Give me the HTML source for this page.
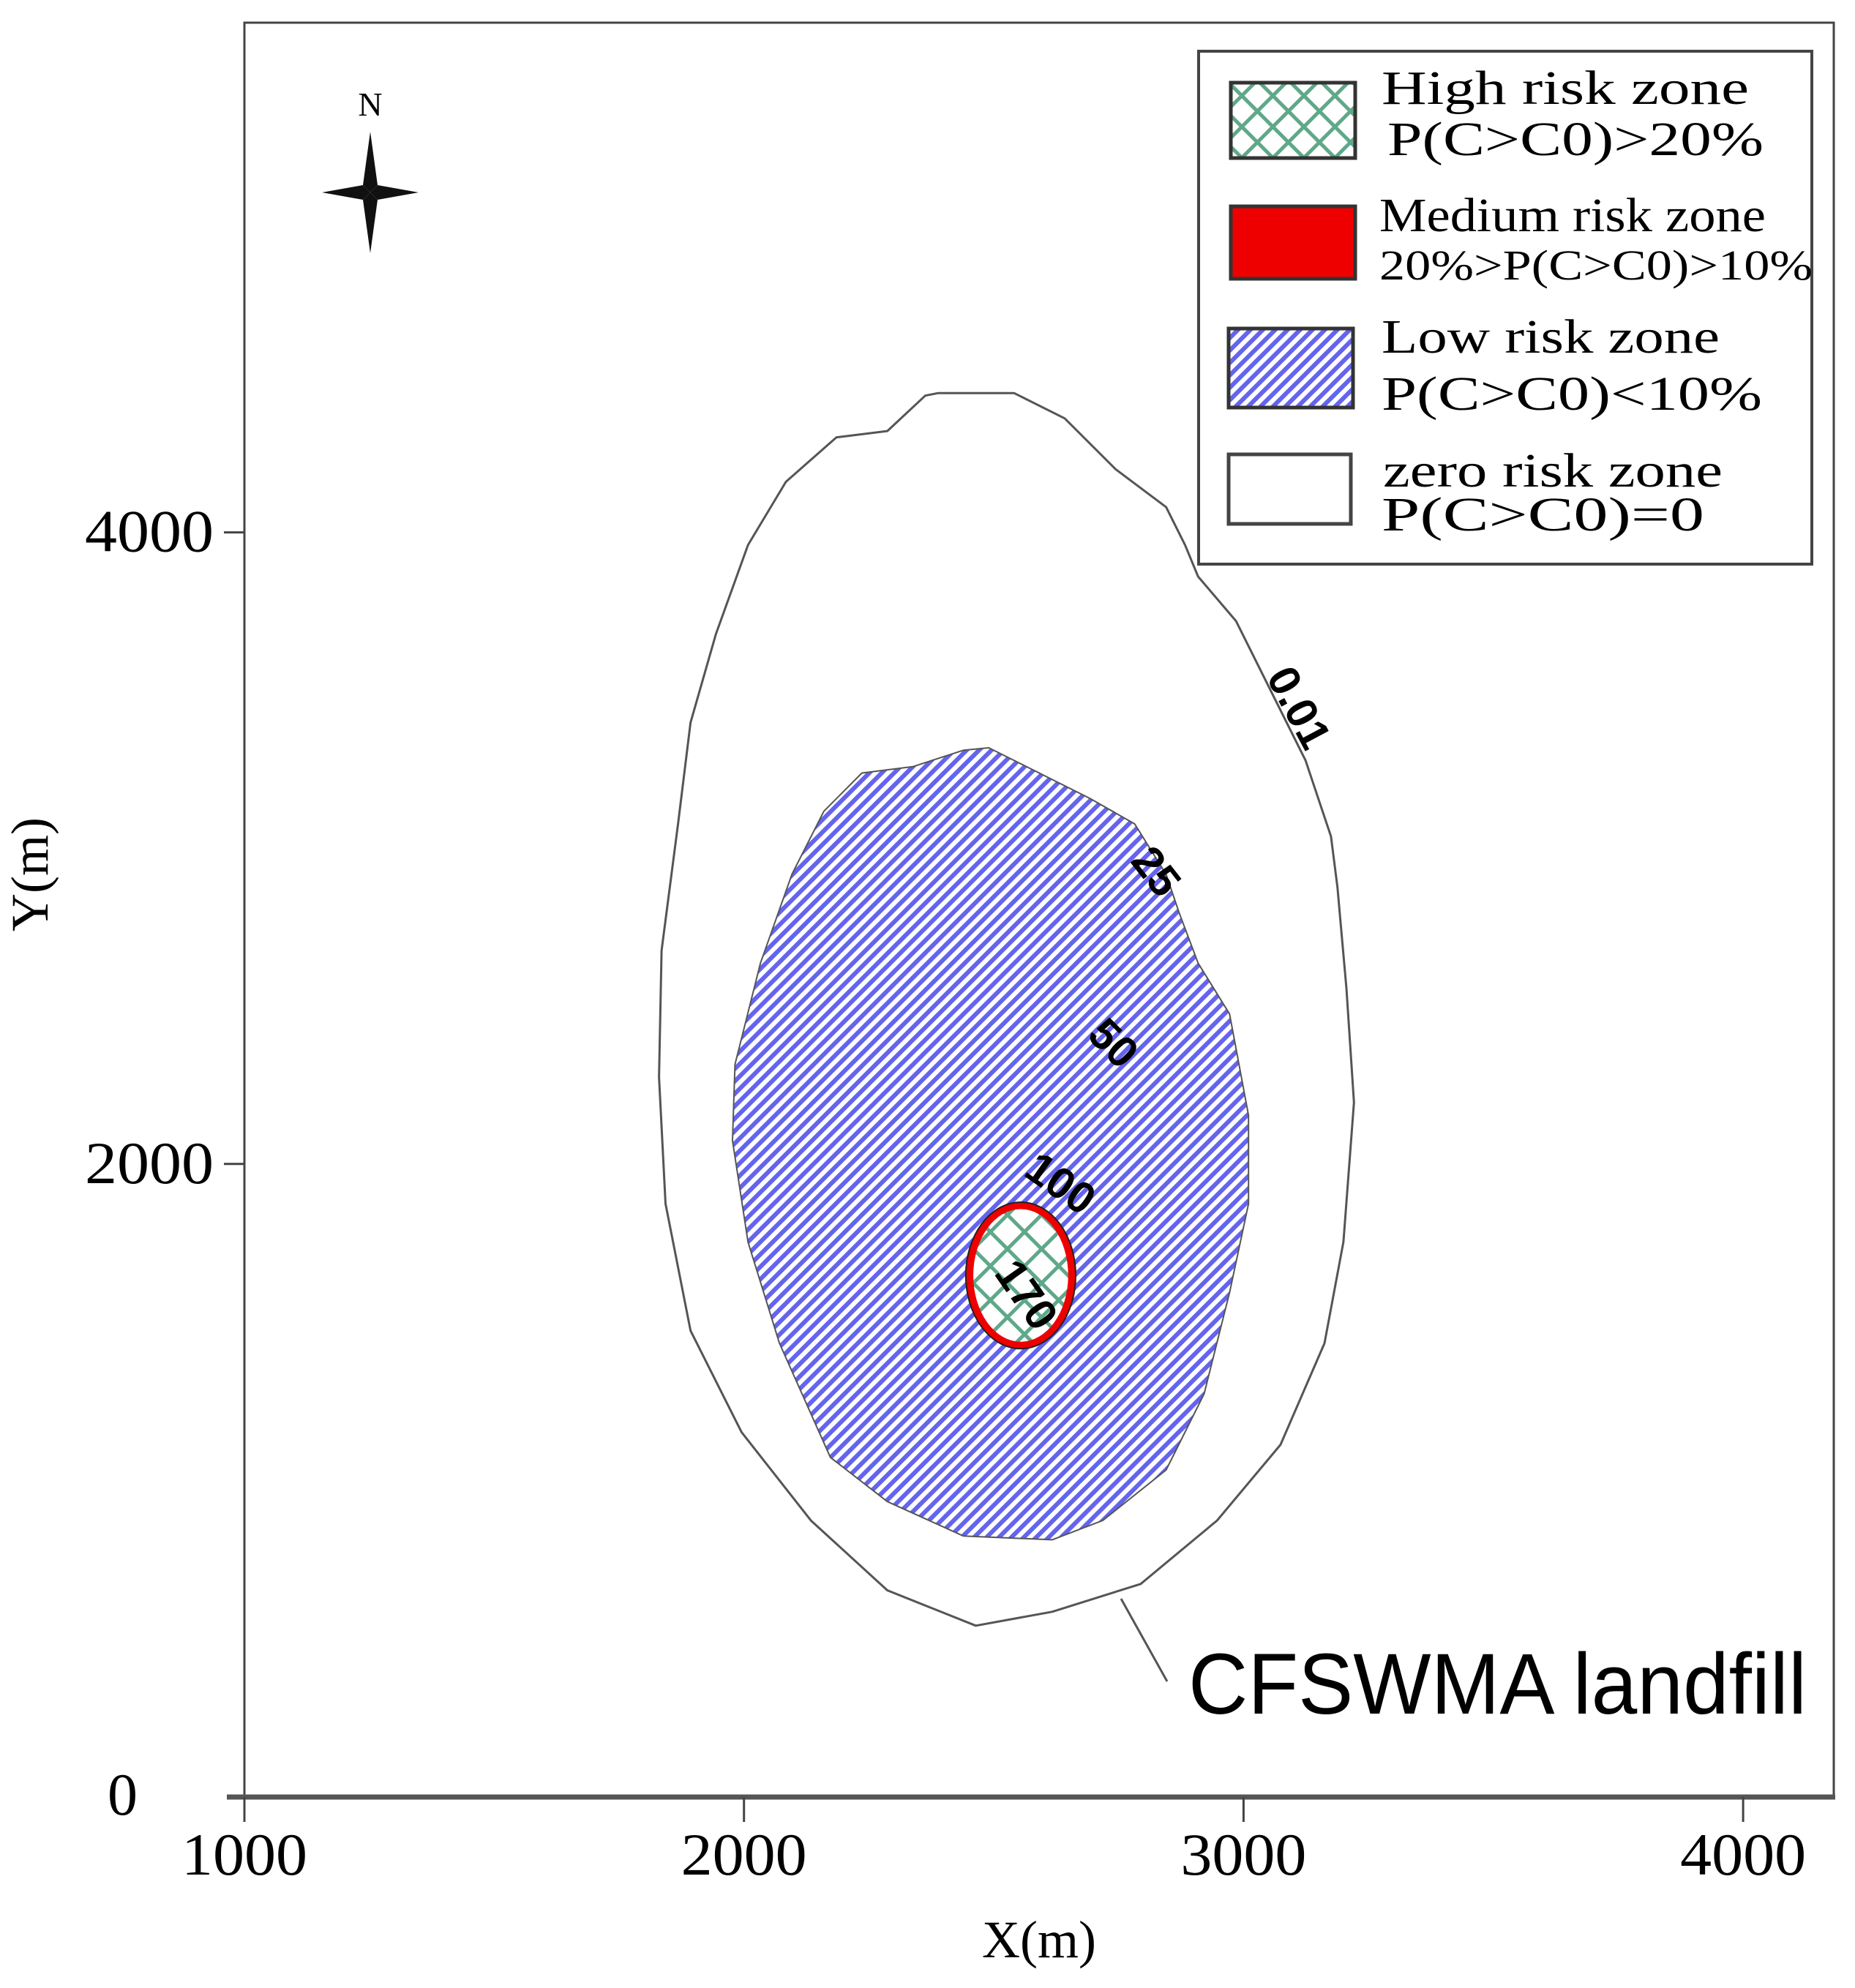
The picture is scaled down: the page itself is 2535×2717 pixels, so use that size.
<!DOCTYPE html>
<html><head><meta charset="utf-8"><style>
html,body{margin:0;padding:0;background:#fff}
svg{display:block}
text{font-family:"Liberation Serif",serif}
</style></head><body>
<svg id="chart" width="2535" height="2717" viewBox="0 0 2535 2717" xmlns="http://www.w3.org/2000/svg">
<defs>
<pattern id="stripes" patternUnits="userSpaceOnUse" width="12" height="12" patternTransform="rotate(45)">
<rect width="12" height="12" fill="#ffffff"/><rect width="6" height="12" fill="#6464ee"/>
</pattern>
<pattern id="cross" patternUnits="userSpaceOnUse" width="33" height="33" patternTransform="rotate(45)">
<rect width="33" height="33" fill="#ffffff"/><rect width="5" height="33" fill="#5fa88a"/><rect width="33" height="5" fill="#5fa88a"/>
</pattern>
</defs>
<g id="plot"></g>
</svg>
<script>
const xTicks=[1000,2000,3000,4000];
const yTicks=[0,2000,4000];
const outerX=[2388,2541,2642,2744,2845,2883,2909,2985,3048,3124,3175,3188,3206,3221,3200,3162,3074,2947,2794,2617,2464,2287,2134,1995,1893,1843,1830,1835,1868,1893,1944,2008,2084,2185,2287,2363];
const outerY=[4441,4441,4361,4200,4080,3960,3860,3719,3519,3278,3037,2877,2556,2195,1753,1432,1111,871,670,582,538,650,871,1151,1472,1874,2275,2676,3077,3398,3679,3960,4160,4301,4321,4433];
const lowX=[2490,2439,2338,2236,2160,2096,2033,1982,1977,2008,2071,2173,2287,2439,2617,2718,2845,2921,2972,3010,3010,2972,2909,2871,2845,2782,2693,2591];
const lowY=[3318,3310,3258,3238,3117,2917,2636,2315,2074,1753,1432,1071,931,822,810,871,1031,1272,1593,1874,2154,2475,2636,2796,2917,3077,3157,3238];
const hotCenter=[2554,1647];
const medRadii=[110,232];
const highRadii=[95,210];
const contourLabels=["0.01","25","50","100","170"];
const labelX=[3105,2820,2735,2630,2560];
const labelY=[3440,2920,2375,1930,1580];
const labelRot=[62,52,45,35,55];

const sx=v=>334+(v-1000)*0.6827;
const sy=v=>2454-v*0.4316;
const NS="http://www.w3.org/2000/svg";
const g=document.getElementById('plot');
function mk(tag,attrs,parent){const e=document.createElementNS(NS,tag);for(const k in attrs)e.setAttribute(k,attrs[k]);(parent||g).appendChild(e);return e;}

let e=mk('rect',{x:334,y:31,width:2172,height:2425,fill:'none',stroke:'#444','stroke-width':3});


e=mk('line',{x1:310,y1:2456,x2:2508,y2:2456,stroke:'#555','stroke-width':7});



function poly(xs,ys){return xs.map((x,i)=>sx(x).toFixed(1)+','+sy(ys[i]).toFixed(1)).join(' ');}
e=mk('polygon',{points:poly(outerX,outerY),fill:'#fff',stroke:'#555','stroke-width':3,'stroke-linejoin':'round'});


e=mk('polygon',{points:poly(lowX,lowY),fill:'url(#stripes)',stroke:'#555','stroke-width':2,'stroke-linejoin':'round'});


e=mk('ellipse',{cx:sx(hotCenter[0]),cy:sy(hotCenter[1]),rx:medRadii[0]*0.6827,ry:medRadii[1]*0.4316,fill:'#ee0000',stroke:'#222','stroke-width':2});


e=mk('ellipse',{cx:sx(hotCenter[0]),cy:sy(hotCenter[1]),rx:highRadii[0]*0.6827,ry:highRadii[1]*0.4316,fill:'url(#cross)'});



contourLabels.forEach((t,i)=>{
 const x=sx(labelX[i]),y=sy(labelY[i]);
 const el=mk('text',{x:x,y:y,'font-size':60,'font-weight':'bold','text-anchor':'middle','dominant-baseline':'middle',transform:`rotate(${labelRot[i]} ${x} ${y})`,style:'font-family:"Liberation Sans",sans-serif'});
 el.textContent=t;
 
 
});

xTicks.forEach(v=>{
 const x=sx(v);
 let t=mk('line',{x1:x,y1:2456,x2:x,y2:2490,stroke:'#444','stroke-width':3});
 
 
 const l=mk('text',{x:x,y:2562,'font-size':82,'text-anchor':'middle',textLength:172,lengthAdjust:'spacingAndGlyphs'});
 l.textContent=v;
 
 
});
yTicks.forEach(v=>{
 const y=sy(v);
 if(v>0){let t=mk('line',{x1:306,y1:y,x2:334,y2:y,stroke:'#444','stroke-width':3});
 
 }
 const attrs={x:v==0?188:292,y:y+26,'font-size':82,'text-anchor':'end'};
 if(v>0){attrs.textLength=176;attrs.lengthAdjust='spacingAndGlyphs';}
 const l=mk('text',attrs);
 l.textContent=v;
 
 
});
</script>
<svg style="position:absolute;left:0;top:0" width="2535" height="2717" viewBox="0 0 2535 2717" xmlns="http://www.w3.org/2000/svg">
<defs>
<pattern id="stripes2" patternUnits="userSpaceOnUse" width="12" height="12" patternTransform="rotate(45)">
<rect width="12" height="12" fill="#ffffff"/><rect width="6" height="12" fill="#6464ee"/>
</pattern>
<pattern id="cross2" patternUnits="userSpaceOnUse" width="30" height="30" patternTransform="rotate(45)">
<rect width="30" height="30" fill="#ffffff"/><rect width="5" height="30" fill="#5fa88a"/><rect width="30" height="5" fill="#5fa88a"/>
</pattern>
</defs>
<text x="1420" y="2675" font-size="72" text-anchor="middle" style="font-family:'Liberation Serif',serif">X(m)</text>
<text x="0" y="0" font-size="72" text-anchor="middle" transform="translate(65 1195) rotate(-90)" style="font-family:'Liberation Serif',serif">Y(m)</text>
<g>
<text x="506" y="158" font-size="46" text-anchor="middle" style="font-family:'Liberation Serif',serif">N</text>
<polygon points="506,180 516,253 506,263 496,253" fill="#111"/>
<polygon points="506,346 516,273 506,263 496,273" fill="#111"/>
<polygon points="440,263 496,253 506,263 496,273" fill="#111"/>
<polygon points="572,263 516,253 506,263 516,273" fill="#111"/>
</g>
<line x1="1532" y1="2185" x2="1595" y2="2298" stroke="#555" stroke-width="3"/>
<text x="1624" y="2342" font-size="118" textLength="845" lengthAdjust="spacingAndGlyphs" style="font-family:'Liberation Sans',sans-serif">CFSWMA landfill</text>
<g>
<rect x="1638" y="70" width="838" height="701" fill="#fff" stroke="#444" stroke-width="4"/>
<rect x="1682" y="113" width="170" height="103" fill="url(#cross2)" stroke="#333" stroke-width="5"/>
<rect x="1682" y="282" width="170" height="99" fill="#ee0000" stroke="#333" stroke-width="5"/>
<rect x="1679" y="449" width="170" height="108" fill="url(#stripes2)" stroke="#333" stroke-width="5"/>
<rect x="1679" y="621" width="167" height="95" fill="#fff" stroke="#444" stroke-width="5"/>
<g font-size="66" lengthAdjust="spacingAndGlyphs" style="font-family:'Liberation Serif',serif">
<text x="1888" y="142" textLength="502" lengthAdjust="spacingAndGlyphs">High risk zone</text>
<text x="1896" y="212" textLength="514" lengthAdjust="spacingAndGlyphs">P(C&gt;C0)&gt;20%</text>
<text x="1885" y="316" textLength="528" lengthAdjust="spacingAndGlyphs">Medium risk zone</text>
<text x="1885" y="382" font-size="58" textLength="592" lengthAdjust="spacingAndGlyphs">20%&gt;P(C&gt;C0)&gt;10%</text>
<text x="1888" y="482" textLength="462" lengthAdjust="spacingAndGlyphs">Low risk zone</text>
<text x="1888" y="560" textLength="520" lengthAdjust="spacingAndGlyphs">P(C&gt;C0)&lt;10%</text>
<text x="1890" y="665" textLength="464" lengthAdjust="spacingAndGlyphs">zero risk zone</text>
<text x="1888" y="725" textLength="441" lengthAdjust="spacingAndGlyphs">P(C&gt;C0)=0</text>
</g>
</g>
</svg>
</body></html>
